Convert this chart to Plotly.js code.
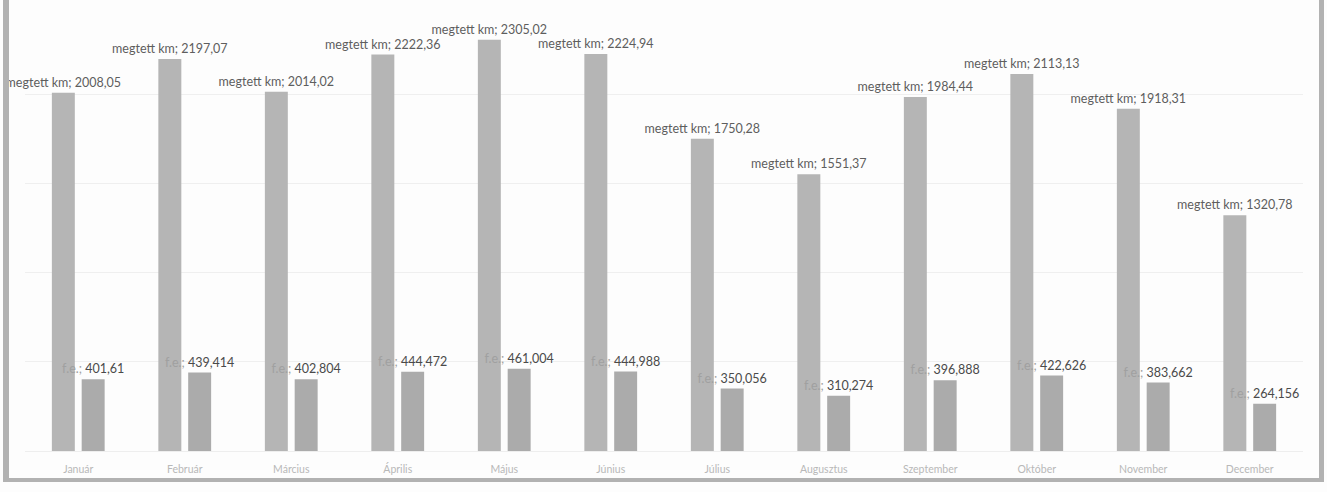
<!DOCTYPE html>
<html>
<head>
<meta charset="utf-8">
<script src="https://cdn.plot.ly/plotly-3.0.1.min.js"></script>
<style>
  html, body { margin: 0; padding: 0; background: #fdfdfd; }
  #wrap { position: relative; width: 1327px; height: 492px; overflow: hidden; }
  #chart { position: absolute; left: 0; top: 0; width: 1327px; height: 492px; }
  #frame { position: absolute; left: 3px; top: -10px; width: 1310px; height: 488px;
           border-left: 6px solid #b2b2b2; border-right: 5px solid #b2b2b2; border-bottom: 4px solid #b2b2b2;
           pointer-events: none; }
</style>
</head>
<body>
<div id="wrap">
  <div id="chart"></div>
  <div id="frame"></div>
</div>
<script>
const months = ["Január", "Február", "Március", "Április", "Május", "Június", "Július", "Augusztus", "Szeptember", "Október", "November", "December"];
const megtettKm = [2008.05, 2197.07, 2014.02, 2222.36, 2305.02, 2224.94, 1750.28, 1551.37, 1984.44, 2113.13, 1918.31, 1320.78];
const fe = [401.61, 439.414, 402.804, 444.472, 461.004, 444.988, 350.056, 310.274, 396.888, 422.626, 383.662, 264.156];
const seriesNames = ["megtett km", "f.e."];

const fmt = v => String(v).replace('.', ',');

const traces = [
  {
    type: 'bar', name: seriesNames[0], x: months, y: megtettKm,
    marker: { color: '#b5b5b5' },
    text: megtettKm.map(v => seriesNames[0] + '; ' + fmt(v)),
    textposition: 'outside', cliponaxis: false, constraintext: 'none',
    textfont: { family: 'Lato, sans-serif', size: 12.5, color: '#5e5e5e' },
    hoverinfo: 'skip'
  },
  {
    type: 'bar', name: seriesNames[1], x: months, y: fe,
    marker: { color: '#ababab' },
    text: fe.map(v => '<span style="color:#a0a0a0">' + seriesNames[1] + ';</span> ' + fmt(v)),
    textposition: 'outside', cliponaxis: false, constraintext: 'none',
    textfont: { family: 'Lato, sans-serif', size: 12.5, color: '#4a4a4a' },
    hoverinfo: 'skip'
  }
];

const layout = {
  width: 1327, height: 492,
  margin: { l: 25, r: 24, t: 5, b: 41 },
  paper_bgcolor: '#fdfdfd', plot_bgcolor: '#fdfdfd',
  showlegend: false,
  barmode: 'group', bargap: 0.44, bargroupgap: 0.23,
  xaxis: {
    type: 'category', showgrid: false, zeroline: false, showline: true, linecolor: '#eeeeee',
    ticks: '', ticklabelstandoff: 8,
    tickfont: { family: 'Lato, sans-serif', size: 10.5, color: '#b8b8b8' }
  },
  yaxis: {
    range: [0, 2500], dtick: 500, showticklabels: false, ticks: '',
    showgrid: true, gridcolor: '#efefef', zeroline: false
  }
};

Plotly.newPlot('chart', traces, layout, { displayModeBar: false, staticPlot: true });
</script>
</body>
</html>
